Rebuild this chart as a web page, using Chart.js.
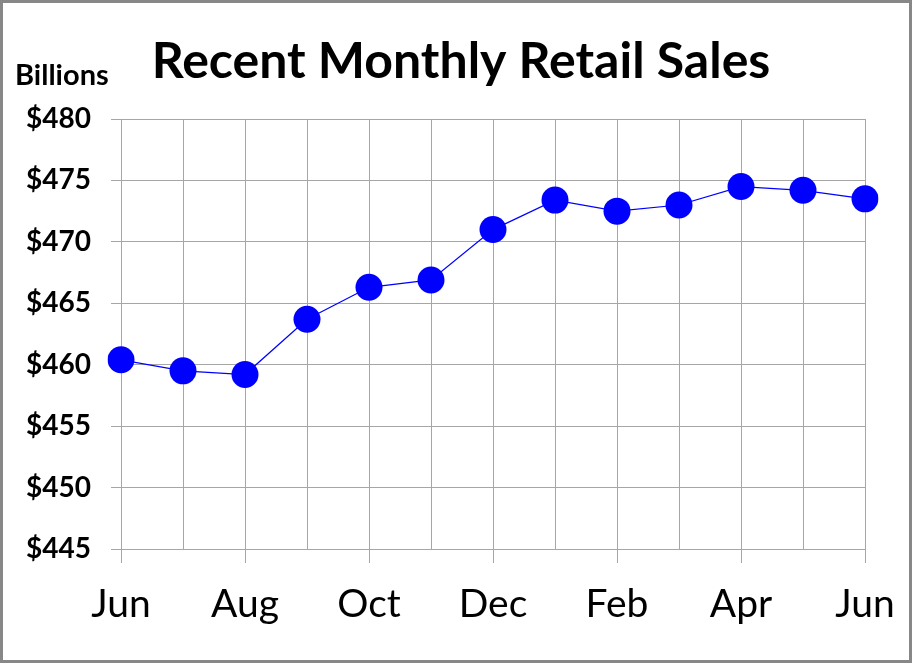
<!DOCTYPE html>
<html>
<head>
<meta charset="utf-8">
<script src="https://cdn.jsdelivr.net/npm/chart.js@4/dist/chart.umd.min.js"></script>
<style>
  html, body { margin: 0; padding: 0; background: #fff; }
  #frame { width: 906px; height: 657px; border: 3px solid #878787; }
  canvas { display: block; }
</style>
</head>
<body>
<div id="frame"><canvas id="salesChart" width="906" height="657"></canvas></div>
<script>
// Months shown along the bottom (Jun to Jun)
const months = ['Jun', 'Jul', 'Aug', 'Sep', 'Oct', 'Nov', 'Dec', 'Jan', 'Feb', 'Mar', 'Apr', 'May', 'Jun'];
// Retail sales, billions of dollars
const sales = [460.4, 459.5, 459.2, 463.7, 466.3, 466.9, 471.0, 473.4, 472.5, 473.0, 474.5, 474.2, 473.5];
const yMin = 445;
const yMax = 480;
const yStep = 5;

const FONT = 'Lato, "Open Sans", sans-serif';
const gridGray = '#a6a6a6';
const titleText = 'Recent Monthly Retail Sales';

// Title and the "Billions" unit label, drawn by hand so they sit where the original has them
const headings = {
  id: 'headings',
  afterDraw(chart) {
    const ctx = chart.ctx;
    const area = chart.chartArea;
    ctx.save();
    ctx.fillStyle = '#000';
    ctx.textBaseline = 'alphabetic';

    ctx.font = 'bold 50px ' + FONT;
    ctx.textAlign = 'center';
    ctx.fillText(titleText, chart.width / 2 + 5, area.top - 41);

    ctx.font = 'bold 29px ' + FONT;
    ctx.textAlign = 'left';
    ctx.fillText('Billions', area.left - 106, area.top - 34);
    ctx.restore();
  }
};

new Chart(document.getElementById('salesChart'), {
  type: 'line',
  data: {
    labels: months,
    datasets: [{
      data: sales,
      borderColor: '#0000ff',
      borderWidth: 1.25,
      backgroundColor: '#0000ff',
      pointBackgroundColor: '#0000ff',
      pointBorderWidth: 0,
      pointRadius: 13.5,
      pointHoverRadius: 13.5,
      tension: 0
    }]
  },
  options: {
    responsive: false,
    animation: false,
    layout: { padding: { left: 0, right: 44, top: 116, bottom: 0 } },
    plugins: {
      legend: { display: false },
      tooltip: { enabled: false },
      title: { display: false }
    },
    scales: {
      x: {
        offset: false,
        grid: {
          color: gridGray,
          tickLength: 14,
          tickColor: ctx => (ctx.index % 2 ? 'rgba(0,0,0,0)' : gridGray)
        },
        border: { color: gridGray },
        ticks: {
          autoSkip: false,
          maxRotation: 0,
          color: '#000',
          font: { family: FONT, size: 39 },
          padding: 18,
          callback: function (v, i) { return i % 2 ? '' : this.getLabelForValue(v); }
        },
        afterFit: s => {
          s.height = 111;
          s.paddingLeft = 0;
          s.paddingRight = 0;
        }
      },
      y: {
        min: yMin,
        max: yMax,
        grid: { color: gridGray, tickLength: 10 },
        border: { color: gridGray },
        ticks: {
          stepSize: yStep,
          color: '#000',
          font: { family: FONT, size: 28, weight: 'bold' },
          padding: 20,
          callback: v => '$' + v
        },
        afterFit: s => { s.width = 118; }
      }
    }
  },
  plugins: [headings]
});
</script>
</body>
</html>
